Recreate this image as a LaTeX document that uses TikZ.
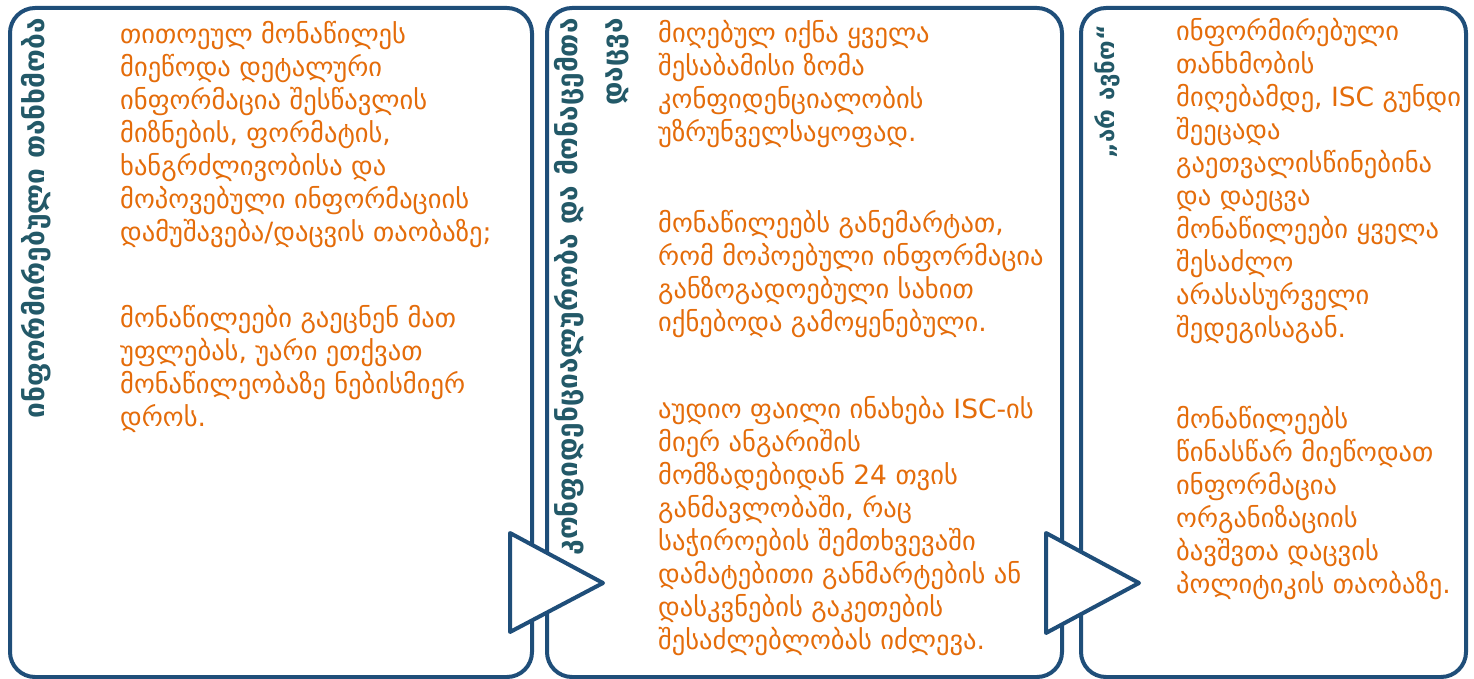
\documentclass[tikz,border=0pt]{standalone}
\usepackage{fontspec}
\newfontfamily\geo{DejaVu Sans}
\definecolor{boxblue}{RGB}{31,78,121}
\definecolor{bodyorange}{RGB}{228,108,10}
\definecolor{titleteal}{RGB}{35,89,104}
\tikzset{
  panel/.style={draw=boxblue, line width=4pt, rounded corners=25pt},
  chevron/.style={draw=boxblue, fill=white, line width=4pt, line join=round},
  body/.style={anchor=north west, inner sep=0pt, align=left, text=bodyorange,
    font=\geo\fontsize{26.5}{33}\selectfont},
  title/.style={rotate=90, anchor=north east, inner sep=0pt, align=right, text=titleteal,
    font=\geo\bfseries\fontsize{28}{45}\selectfont},
}
\begin{document}
\begin{tikzpicture}[x=1pt,y=1pt]
\useasboundingbox (0,0) rectangle (1474,-679);
% panels
\draw[panel] (10,-8) rectangle (532,-677);
\draw[panel] (547,-8) rectangle (1062,-677);
\draw[panel] (1081,-8) rectangle (1466,-677);
% chevrons
\draw[chevron] (510,-533) -- (603,-583) -- (510,-632) -- cycle;
\draw[chevron] (1046,-533) -- (1139,-583) -- (1046,-633) -- cycle;
% titles
\node[title] (t1) at (21,-18) {ინფორმირებული თანხმობა};
\node[title] (t2) at (554,-18) {კონფიდენციალურობა და მონაცემთა\\დაცვა};
\node[title, font=\geo\bfseries\fontsize{24}{40}\selectfont] (t3) at (1094,-25) {„არ ავნო“};
% column 1
\node[body] (a1) at (120,-20) {\strut თითოეულ მონაწილეს\\მიეწოდა დეტალური\\ინფორმაცია შესწავლის\\მიზნების, ფორმატის,\\ხანგრძლივობისა და\\მოპოვებული ინფორმაციის\\დამუშავება/დაცვის თაობაზე;};
\node[body] (a2) at (120,-304) {\strut მონაწილეები გაეცნენ მათ\\უფლებას, უარი ეთქვათ\\მონაწილეობაზე ნებისმიერ\\დროს.};
% column 2
\node[body] (b1) at (658,-19) {\strut მიღებულ იქნა ყველა\\შესაბამისი ზომა\\კონფიდენციალობის\\უზრუნველსაყოფად.};
\node[body] (b2) at (658,-209) {\strut მონაწილეებს განემარტათ,\\რომ მოპოებული ინფორმაცია\\განზოგადოებული სახით\\იქნებოდა გამოყენებული.};
\node[body] (b3) at (658,-395) {\strut აუდიო ფაილი ინახება ISC-ის\\მიერ ანგარიშის\\მომზადებიდან 24 თვის\\განმავლობაში, რაც\\საჭიროების შემთხვევაში\\დამატებითი განმარტების ან\\დასკვნების გაკეთების\\შესაძლებლობას იძლევა.};
% column 3
\node[body] (c1) at (1176,-17) {\strut ინფორმირებული\\თანხმობის\\მიღებამდე, ISC გუნდი\\შეეცადა\\გაეთვალისწინებინა\\და დაეცვა\\მონაწილეები ყველა\\შესაძლო\\არასასურველი\\შედეგისაგან.};
\node[body] (c2) at (1176,-405) {\strut მონაწილეებს\\წინასწარ მიეწოდათ\\ინფორმაცია\\ორგანიზაციის\\ბავშვთა დაცვის\\პოლიტიკის თაობაზე.};
\end{tikzpicture}
\end{document}
